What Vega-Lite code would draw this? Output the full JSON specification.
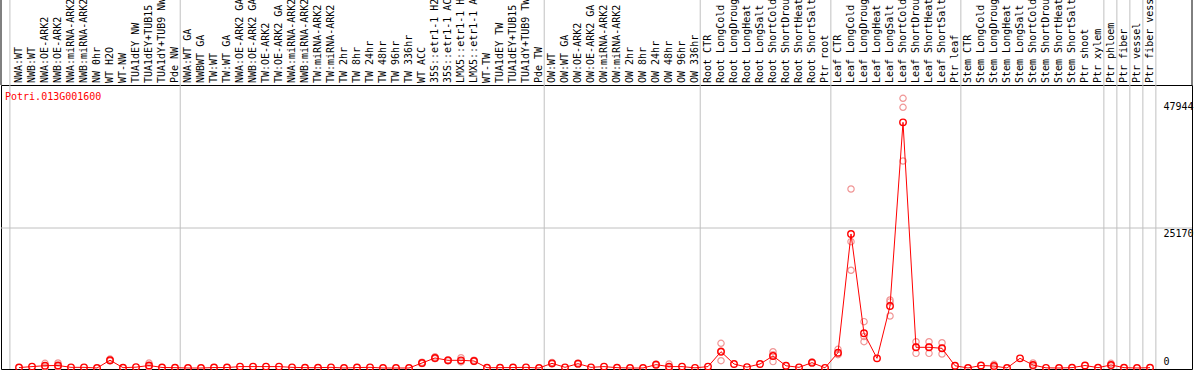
{
  "$schema": "https://vega.github.io/schema/vega-lite/v6.json",
  "width": 1191,
  "height": 284,
  "autosize": {"type": "none"},
  "padding": {"left": 1, "top": 85, "right": 2, "bottom": 1},
  "background": "white",
  "config": {"view": {"stroke": "black", "strokeWidth": 1}},
  "datasets": {
    "samples": [
      {"i": 0, "sample": "NWA:WT", "mean": 80},
      {"i": 1, "sample": "NWB:WT", "mean": 250},
      {"i": 2, "sample": "NWA:OE-ARK2", "mean": 420},
      {"i": 3, "sample": "NWB:OE-ARK2", "mean": 450},
      {"i": 4, "sample": "NWA:miRNA-ARK2", "mean": 120},
      {"i": 5, "sample": "NWB:miRNA-ARK2", "mean": 120},
      {"i": 6, "sample": "NW 0hr", "mean": 0},
      {"i": 7, "sample": "WT H2O", "mean": 1400},
      {"i": 8, "sample": "WT-NW", "mean": 60},
      {"i": 9, "sample": "TUA1dEY NW", "mean": 150},
      {"i": 10, "sample": "TUA1dEY+TUB15 NW", "mean": 450},
      {"i": 11, "sample": "TUA1dY+TUB9 NW", "mean": 100},
      {"i": 12, "sample": "Pde NW", "mean": 60},
      {"i": 13, "sample": "NWA:WT GA", "mean": 0},
      {"i": 14, "sample": "NWBWT GA", "mean": 0},
      {"i": 15, "sample": "TW:WT", "mean": 80},
      {"i": 16, "sample": "TW:WT GA", "mean": 80},
      {"i": 17, "sample": "NWA:OE-ARK2 GA", "mean": 250},
      {"i": 18, "sample": "NWB:OE-ARK2 GA", "mean": 250},
      {"i": 19, "sample": "TW:OE-ARK2", "mean": 250},
      {"i": 20, "sample": "TW:OE-ARK2 GA", "mean": 250},
      {"i": 21, "sample": "NWA:miRNA-ARK2 GA", "mean": 120},
      {"i": 22, "sample": "NWB:miRNA-ARK2 GA", "mean": 60},
      {"i": 23, "sample": "TW:miRNA-ARK2", "mean": 60},
      {"i": 24, "sample": "TW:miRNA-ARK2 GA", "mean": 120},
      {"i": 25, "sample": "TW 2hr", "mean": 0},
      {"i": 26, "sample": "TW 8hr", "mean": 80},
      {"i": 27, "sample": "TW 24hr", "mean": 120},
      {"i": 28, "sample": "TW 48hr", "mean": 0},
      {"i": 29, "sample": "TW 96hr", "mean": 0},
      {"i": 30, "sample": "TW 336hr", "mean": 0},
      {"i": 31, "sample": "WT ACC", "mean": 900},
      {"i": 32, "sample": "35S::etr1-1 H2O", "mean": 1800},
      {"i": 33, "sample": "35S::etr1-1 ACC", "mean": 1380},
      {"i": 34, "sample": "LMX5::etr1-1 H2O", "mean": 1380},
      {"i": 35, "sample": "LMX5::etr1-1 ACC", "mean": 1260},
      {"i": 36, "sample": "WT-TW", "mean": 60},
      {"i": 37, "sample": "TUA1dEY TW", "mean": 60},
      {"i": 38, "sample": "TUA1dEY+TUB15 TW", "mean": 80},
      {"i": 39, "sample": "TUA1dY+TUB9 TW", "mean": 120},
      {"i": 40, "sample": "Pde TW", "mean": 0},
      {"i": 41, "sample": "OW:WT", "mean": 840},
      {"i": 42, "sample": "OW:WT GA", "mean": 120},
      {"i": 43, "sample": "OW:OE-ARK2", "mean": 780},
      {"i": 44, "sample": "OW:OE-ARK2 GA", "mean": 120},
      {"i": 45, "sample": "OW:miRNA-ARK2", "mean": 250},
      {"i": 46, "sample": "OW:miRNA-ARK2 GA", "mean": 60},
      {"i": 47, "sample": "OW 2hr", "mean": 0},
      {"i": 48, "sample": "OW 8hr", "mean": 0},
      {"i": 49, "sample": "OW 24hr", "mean": 600},
      {"i": 50, "sample": "OW 48hr", "mean": 250},
      {"i": 51, "sample": "OW 96hr", "mean": 250},
      {"i": 52, "sample": "OW 336hr", "mean": 30},
      {"i": 53, "sample": "Root CTR", "mean": 250},
      {"i": 54, "sample": "Root LongCold", "mean": 2930},
      {"i": 55, "sample": "Root LongDrought", "mean": 720},
      {"i": 56, "sample": "Root LongHeat", "mean": 150},
      {"i": 57, "sample": "Root LongSalt", "mean": 720},
      {"i": 58, "sample": "Root ShortCold", "mean": 2160},
      {"i": 59, "sample": "Root ShortDrought", "mean": 400},
      {"i": 60, "sample": "Root ShortHeat", "mean": 120},
      {"i": 61, "sample": "Root ShortSalt", "mean": 960},
      {"i": 62, "sample": "Ptr root", "mean": 30},
      {"i": 63, "sample": "Leaf CTR", "mean": 2750},
      {"i": 64, "sample": "Leaf LongCold", "mean": 24100},
      {"i": 65, "sample": "Leaf LongDrought", "mean": 6240},
      {"i": 66, "sample": "Leaf LongHeat", "mean": 1740},
      {"i": 67, "sample": "Leaf LongSalt", "mean": 11150},
      {"i": 68, "sample": "Leaf ShortCold", "mean": 44170},
      {"i": 69, "sample": "Leaf ShortDrought", "mean": 3720},
      {"i": 70, "sample": "Leaf ShortHeat", "mean": 3720},
      {"i": 71, "sample": "Leaf ShortSalt", "mean": 3540},
      {"i": 72, "sample": "Ptr leaf", "mean": 400},
      {"i": 73, "sample": "Stem CTR", "mean": 0},
      {"i": 74, "sample": "Stem LongCold", "mean": 450},
      {"i": 75, "sample": "Stem LongDrought", "mean": 350},
      {"i": 76, "sample": "Stem LongHeat", "mean": 0},
      {"i": 77, "sample": "Stem LongSalt", "mean": 1740},
      {"i": 78, "sample": "Stem ShortCold", "mean": 540},
      {"i": 79, "sample": "Stem ShortDrought", "mean": 30},
      {"i": 80, "sample": "Stem ShortHeat", "mean": 0},
      {"i": 81, "sample": "Stem ShortSalt", "mean": 60},
      {"i": 82, "sample": "Ptr shoot", "mean": 450},
      {"i": 83, "sample": "Ptr xylem", "mean": 60},
      {"i": 84, "sample": "Ptr phloem", "mean": 550},
      {"i": 85, "sample": "Ptr fiber", "mean": 60},
      {"i": 86, "sample": "Ptr vessel", "mean": 0},
      {"i": 87, "sample": "Ptr fiber vessel", "mean": 60}
    ],
    "reps": [
      {"i": 2, "value": 840}, {"i": 2, "value": 300}, {"i": 2, "value": 120},
      {"i": 3, "value": 900}, {"i": 3, "value": 300}, {"i": 3, "value": 150},
      {"i": 7, "value": 1600}, {"i": 7, "value": 1300}, {"i": 7, "value": 1300},
      {"i": 10, "value": 880}, {"i": 10, "value": 300}, {"i": 10, "value": 170},
      {"i": 31, "value": 1050}, {"i": 31, "value": 800}, {"i": 31, "value": 850},
      {"i": 32, "value": 2000}, {"i": 32, "value": 1700}, {"i": 32, "value": 1700},
      {"i": 33, "value": 1500}, {"i": 33, "value": 1300}, {"i": 33, "value": 1340},
      {"i": 34, "value": 1850}, {"i": 34, "value": 1200}, {"i": 34, "value": 1090},
      {"i": 35, "value": 1400}, {"i": 35, "value": 1200}, {"i": 35, "value": 1180},
      {"i": 41, "value": 1000}, {"i": 41, "value": 760}, {"i": 41, "value": 760},
      {"i": 43, "value": 900}, {"i": 43, "value": 720}, {"i": 43, "value": 720},
      {"i": 49, "value": 700}, {"i": 49, "value": 550}, {"i": 49, "value": 550},
      {"i": 50, "value": 700}, {"i": 50, "value": 30}, {"i": 50, "value": 20},
      {"i": 54, "value": 4440}, {"i": 54, "value": 3040}, {"i": 54, "value": 1310},
      {"i": 58, "value": 2930}, {"i": 58, "value": 2400}, {"i": 58, "value": 1150},
      {"i": 61, "value": 1100}, {"i": 61, "value": 900}, {"i": 61, "value": 880},
      {"i": 63, "value": 3360}, {"i": 63, "value": 2500}, {"i": 63, "value": 2390},
      {"i": 64, "value": 32180}, {"i": 64, "value": 22710}, {"i": 64, "value": 17570},
      {"i": 65, "value": 8330}, {"i": 65, "value": 5660}, {"i": 65, "value": 4730},
      {"i": 67, "value": 12220}, {"i": 67, "value": 11880}, {"i": 67, "value": 9350},
      {"i": 68, "value": 48490}, {"i": 68, "value": 46870}, {"i": 68, "value": 37220},
      {"i": 69, "value": 4730}, {"i": 69, "value": 3780}, {"i": 69, "value": 2640},
      {"i": 70, "value": 4730}, {"i": 70, "value": 3780}, {"i": 70, "value": 2640},
      {"i": 71, "value": 4550}, {"i": 71, "value": 3540}, {"i": 71, "value": 2520},
      {"i": 75, "value": 660}, {"i": 75, "value": 200}, {"i": 75, "value": 190},
      {"i": 78, "value": 900}, {"i": 78, "value": 400}, {"i": 78, "value": 320},
      {"i": 84, "value": 840}, {"i": 84, "value": 420}, {"i": 84, "value": 400}
    ],
    "groups": [
      {"b": -0.7}, {"b": 12.4}, {"b": 40.4}, {"b": 52.4}, {"b": 62.45}, {"b": 72.45},
      {"b": 83.45}, {"b": 84.45}, {"b": 85.45}, {"b": 86.45}, {"b": 87.45}
    ],
    "edges": [{"e": -1.385}, {"e": 90.23}],
    "gene": [{"name": "Potri.013G001600"}]
  },
  "layer": [
    {
      "data": {"name": "groups"},
      "mark": {"type": "rule", "color": "#c0c0c0", "strokeWidth": 1},
      "encoding": {
        "x": {"field": "b", "type": "quantitative", "scale": {"domain": [-1.385, 90.23], "nice": false, "zero": false}, "axis": null},
        "y": {
          "datum": -180, "type": "quantitative",
          "scale": {"domain": [-180, 50880], "nice": false, "zero": false},
          "axis": {
            "orient": "right", "values": [0, 25170, 47944], "format": "d", "title": null,
            "grid": false, "ticks": false, "domain": false,
            "labelAlign": "left", "labelPadding": -29, "labelBaseline": "top",
            "labelOffset": {"condition": {"test": "datum.value == 0", "value": -11}, "value": 0},
            "labelFont": "DejaVu Sans Mono", "labelFontSize": 10, "labelColor": "black",
            "labelOverlap": false, "labelFlush": false, "zindex": 2
          }
        },
        "y2": {"datum": 66200}
      }
    },
    {
      "data": {"values": [{"level": 25170}]},
      "mark": {"type": "rule", "color": "#c0c0c0", "strokeWidth": 1},
      "encoding": {
        "y": {"field": "level", "type": "quantitative", "scale": {"domain": [-180, 50880], "nice": false, "zero": false}}
      }
    },
    {
      "data": {"name": "edges"},
      "mark": {"type": "rule", "color": "black", "strokeWidth": 1},
      "encoding": {
        "x": {"field": "e", "type": "quantitative", "scale": {"domain": [-1.385, 90.23], "nice": false, "zero": false}, "axis": null},
        "y": {"datum": 50880, "type": "quantitative", "scale": {"domain": [-180, 50880], "nice": false, "zero": false}},
        "y2": {"datum": 66200}
      }
    },
    {
      "data": {"name": "reps"},
      "mark": {"type": "point", "shape": "circle", "filled": false, "color": "#f09696", "size": 40, "strokeWidth": 1.2, "opacity": 1},
      "encoding": {
        "x": {"field": "i", "type": "quantitative", "scale": {"domain": [-1.385, 90.23], "nice": false, "zero": false}, "axis": null},
        "y": {"field": "value", "type": "quantitative", "scale": {"domain": [-180, 50880], "nice": false, "zero": false}}
      }
    },
    {
      "data": {"name": "samples"},
      "mark": {"type": "line", "color": "red", "strokeWidth": 1},
      "encoding": {
        "x": {"field": "i", "type": "quantitative", "scale": {"domain": [-1.385, 90.23], "nice": false, "zero": false}, "axis": null},
        "y": {"field": "mean", "type": "quantitative", "scale": {"domain": [-180, 50880], "nice": false, "zero": false}}
      }
    },
    {
      "data": {"name": "samples"},
      "mark": {"type": "point", "shape": "circle", "filled": false, "color": "red", "size": 42, "strokeWidth": 1.4, "opacity": 1},
      "encoding": {
        "x": {"field": "i", "type": "quantitative", "scale": {"domain": [-1.385, 90.23], "nice": false, "zero": false}, "axis": null},
        "y": {"field": "mean", "type": "quantitative", "scale": {"domain": [-180, 50880], "nice": false, "zero": false}}
      }
    },
    {
      "data": {"name": "samples"},
      "mark": {"type": "text", "angle": 270, "align": "left", "baseline": "middle", "font": "DejaVu Sans Mono", "fontSize": 10, "color": "black"},
      "encoding": {
        "x": {"field": "i", "type": "quantitative", "scale": {"domain": [-1.385, 90.23], "nice": false, "zero": false}, "axis": null},
        "y": {"datum": 51240, "type": "quantitative", "scale": {"domain": [-180, 50880], "nice": false, "zero": false}},
        "text": {"field": "sample", "type": "nominal"}
      }
    },
    {
      "data": {"name": "gene"},
      "mark": {"type": "text", "align": "left", "baseline": "middle", "font": "DejaVu Sans Mono", "fontSize": 10, "color": "red"},
      "encoding": {
        "x": {"datum": -1.077, "type": "quantitative", "scale": {"domain": [-1.385, 90.23], "nice": false, "zero": false}, "axis": null},
        "y": {"datum": 48723, "type": "quantitative", "scale": {"domain": [-180, 50880], "nice": false, "zero": false}},
        "text": {"field": "name", "type": "nominal"}
      }
    }
  ]
}
